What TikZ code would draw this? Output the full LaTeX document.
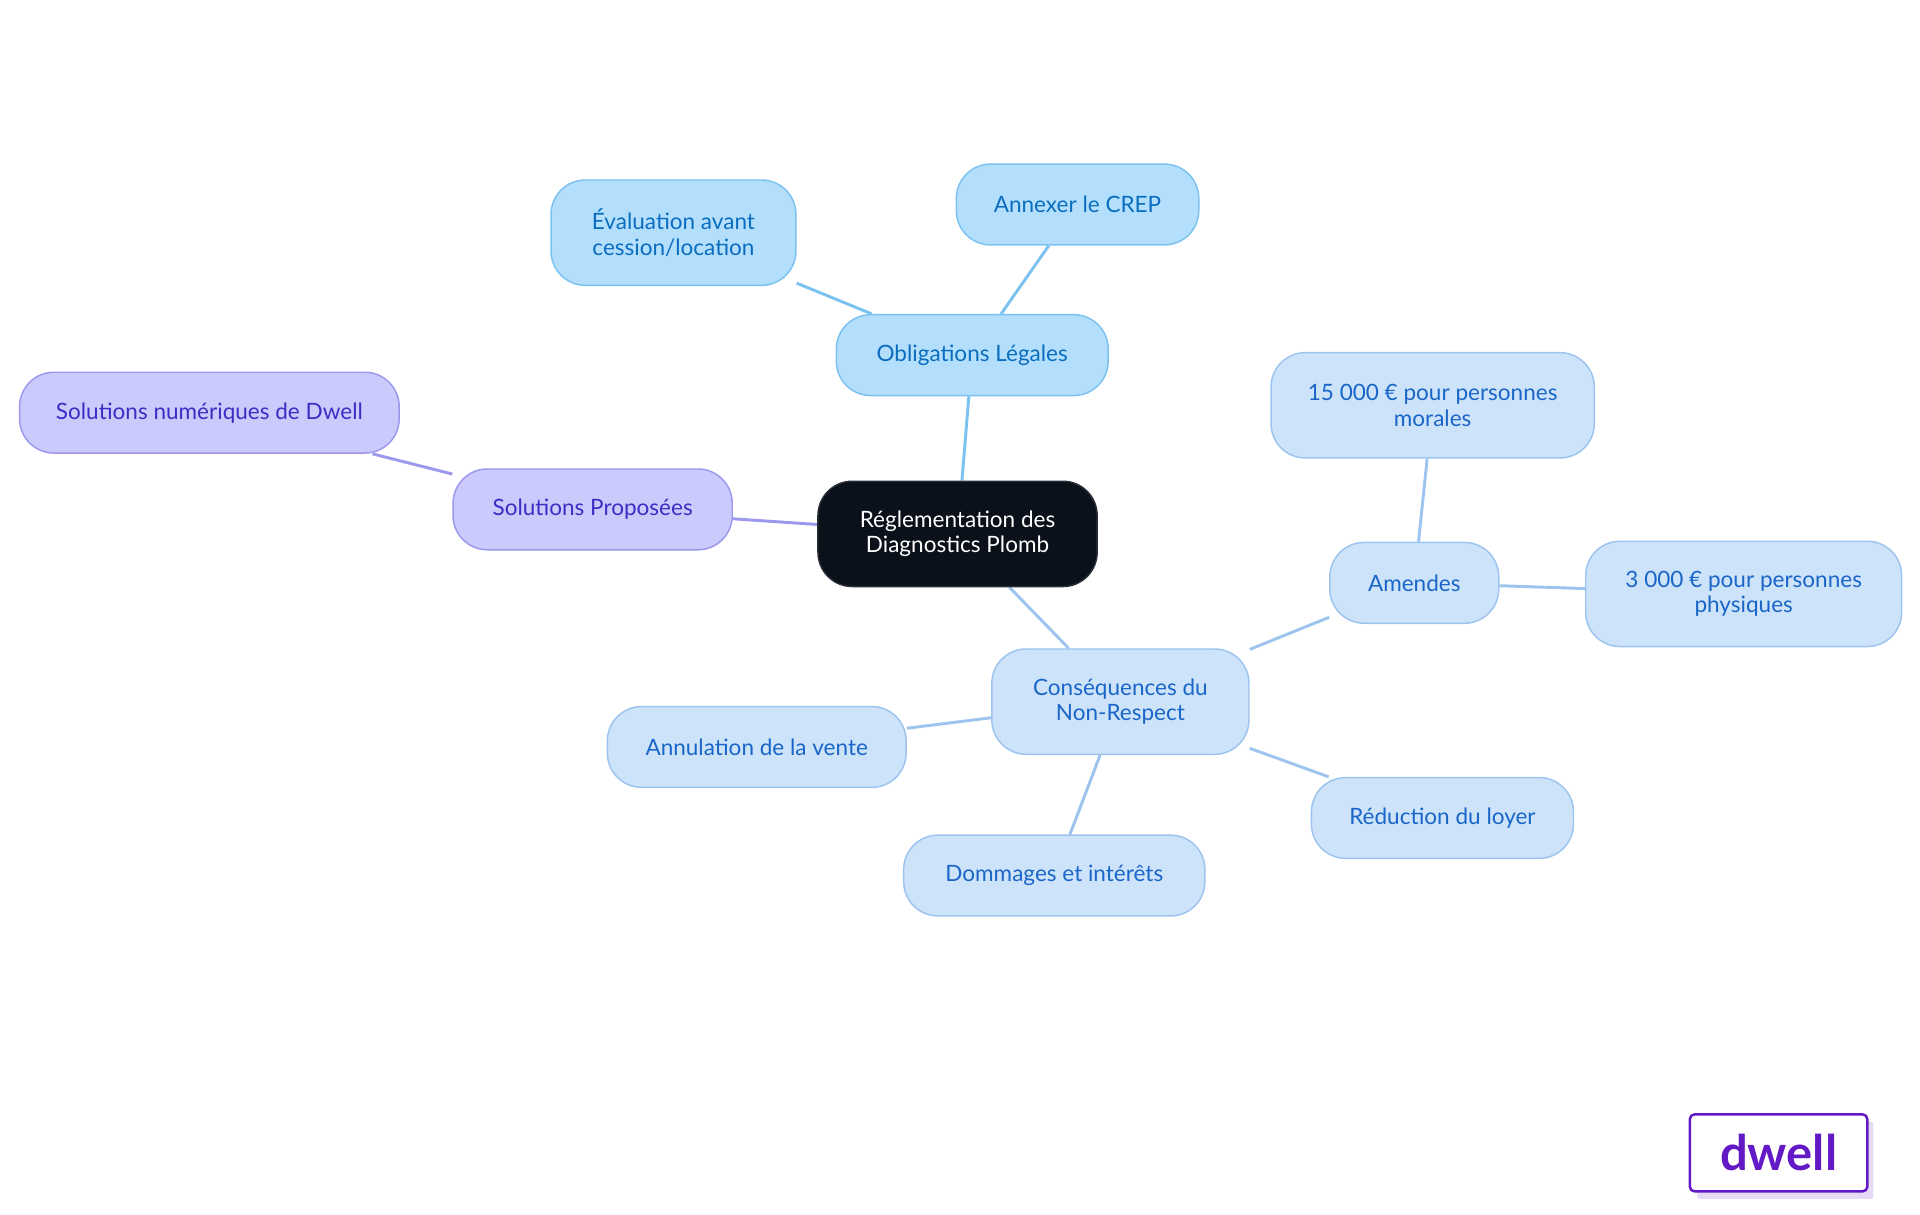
\documentclass[tikz,border=0pt]{standalone}
\usepackage{fontspec}
\setmainfont{Lato}
\usetikzlibrary{backgrounds}
\begin{document}
\begin{tikzpicture}[x=0.5pt,y=-0.5pt,
  base/.style={rounded corners=14pt,draw,line width=0.6pt,align=center,inner sep=0pt,font=\fontsize{9.2}{10.5}\selectfont},
  sz/.style 2 args={minimum width=#1*0.5pt,minimum height=#2*0.5pt},
  ob/.style={base,fill=cOb,draw=cObD,text=cObT},
  so/.style={base,fill=cSo,draw=cSoD,text=cSoT},
  co/.style={base,fill=cCo,draw=cCoD,text=cCoT},
  lk/.style={line width=1.2pt}]
\definecolor{cOb}{HTML}{B3DFFC}\definecolor{cObD}{HTML}{7CC2F0}\definecolor{cObT}{HTML}{0A6DBF}
\definecolor{cSo}{HTML}{CBCAFC}\definecolor{cSoD}{HTML}{9C98EE}\definecolor{cSoT}{HTML}{3A2FC4}
\definecolor{cCo}{HTML}{CDE3FA}\definecolor{cCoD}{HTML}{9CC4EE}\definecolor{cCoT}{HTML}{1A66C8}
\definecolor{cLogo}{HTML}{6419C6}\definecolor{cSh}{HTML}{E6DAF6}
\useasboundingbox (0,0) rectangle (1568,992);
\node[base,fill={rgb,255:red,11;green,17;blue,26},draw={rgb,255:red,40;green,45;blue,55},text=white,sz={228}{86}] (c) at (782,436) {Réglementation des\\Diagnostics Plomb};
\node[ob,sz={222}{66}] (ob) at (794,290) {Obligations Légales};
\node[ob,sz={200}{86}] (ev) at (550,190) {Évaluation avant\\cession/location};
\node[ob,sz={198}{66}] (an) at (880,167) {Annexer le CREP};
\node[so,sz={228}{66}] (sp) at (484,416) {Solutions Proposées};
\node[so,sz={310}{66}] (sn) at (171,337) {Solutions numériques de Dwell};
\node[co,sz={210}{86}] (cq) at (915,573) {Conséquences du\\Non-Respect};
\node[co,sz={138}{66}] (am) at (1155,476) {Amendes};
\node[co,sz={264}{86}] (f1) at (1170,331) {15 000 € pour personnes\\morales};
\node[co,sz={258}{86}] (f2) at (1424,485) {3 000 € pour personnes\\physiques};
\node[co,sz={214}{66}] (rd) at (1178,668) {Réduction du loyer};
\node[co,sz={246}{66}] (dm) at (861,715) {Dommages et intérêts};
\node[co,sz={244}{66}] (au) at (618,610) {Annulation de la vente};
\begin{scope}[on background layer]
\draw[lk,cObD] (c) -- (ob); \draw[lk,cObD] (ob) -- (ev); \draw[lk,cObD] (ob) -- (an);
\draw[lk,cSoD] (c) -- (sp); \draw[lk,cSoD] (sp) -- (sn);
\draw[lk,cCoD] (c) -- (cq); \draw[lk,cCoD] (cq) -- (am); \draw[lk,cCoD] (am) -- (f1); \draw[lk,cCoD] (am) -- (f2);
\draw[lk,cCoD] (cq) -- (rd); \draw[lk,cCoD] (cq) -- (dm); \draw[lk,cCoD] (cq) -- (au);
\end{scope}
\fill[cSh,rounded corners=1pt] (1386,916) rectangle (1530,979);
\node[draw=cLogo,line width=1pt,fill=white,rounded corners=2pt,sz={145}{63},inner sep=0pt,text=cLogo,font=\fontsize{20}{20}\bfseries\selectfont] (logo) at (1452.5,941.5) {dwell};
\end{tikzpicture}
\end{document}
